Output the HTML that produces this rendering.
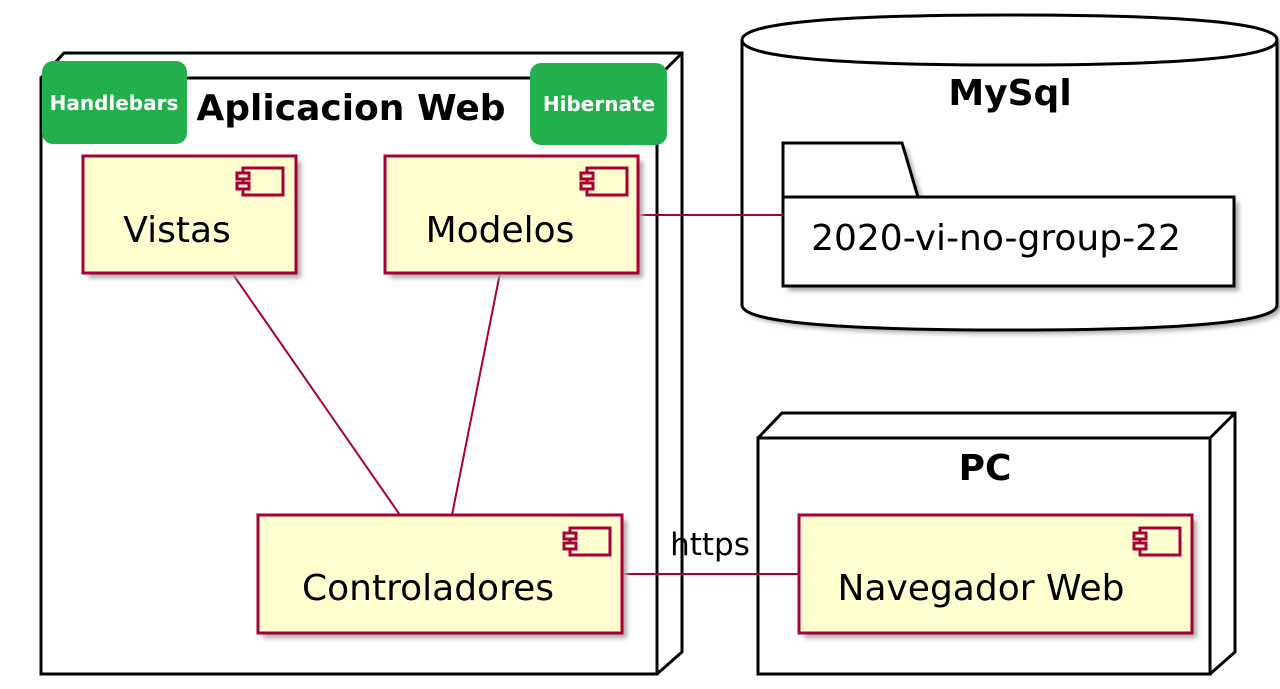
<!DOCTYPE html>
<html><head><meta charset="utf-8"><style>
html,body{margin:0;padding:0;background:#fff;width:1280px;height:689px;overflow:hidden}
svg{display:block}
text{font-family:"DejaVu Sans","Liberation Sans",sans-serif}
</style></head><body>
<svg width="1280" height="689" viewBox="0 0 1280 689">
<defs>
<filter id="sh" x="-5%" y="-5%" width="115%" height="115%"><feGaussianBlur stdDeviation="2.5"/></filter>
</defs>
<g fill="none" stroke="#000" stroke-width="3">
<path d="M41 78 L64 53 L682 53 L682 652 L657 674" fill="#fff"/>
<rect x="41" y="78" width="616" height="596" fill="#fff"/>
<path d="M657 78 L682 53"/>
</g>
<text x="351" y="120" font-size="36" font-weight="bold" text-anchor="middle">Aplicacion Web</text>
<rect x="42" y="61" width="145" height="83" rx="11" fill="#23b04c"/>
<text x="114" y="110" font-size="20" font-weight="bold" fill="#fff" text-anchor="middle">Handlebars</text>
<rect x="530" y="63" width="137" height="82" rx="11" fill="#23b04c"/>
<text x="599" y="111" font-size="20" font-weight="bold" fill="#fff" text-anchor="middle">Hibernate</text>

<path d="M742 40 Q742 15 1010 15 Q1277 15 1277 40 L1277 305 Q1277 330 1010 330 Q742 330 742 305 Z" fill="#aaa" filter="url(#sh)" transform="translate(4,4)"/>
<path d="M742 40 Q742 15 1010 15 Q1277 15 1277 40 L1277 305 Q1277 330 1010 330 Q742 330 742 305 Z" fill="#fff" stroke="#000" stroke-width="3"/>
<path d="M742 40 Q742 65 1010 65 Q1277 65 1277 40" fill="none" stroke="#000" stroke-width="3"/>
<text x="1010" y="105" font-size="36" font-weight="bold" text-anchor="middle">MySql</text>
<path d="M783 143 L902 143 L918 197 L1234 197 L1234 286 L783 286 Z" fill="#aaa" filter="url(#sh)" transform="translate(5,5)"/>
<path d="M783 197 L783 143 L902 143 L918 197" fill="#fff" stroke="#000" stroke-width="3"/>
<rect x="783" y="197" width="451" height="89" fill="#fff" stroke="#000" stroke-width="3"/>
<text x="996" y="250" font-size="36" text-anchor="middle">2020-vi-no-group-22</text>

<g fill="#fff" stroke="#000" stroke-width="3">
<path d="M758 438 L782 413 L1235 413 L1235 652 L1210 674"/>
<rect x="758" y="438" width="452" height="236"/>
<path d="M1210 438 L1235 413" fill="none"/>
</g>
<text x="985" y="480" font-size="36" font-weight="bold" text-anchor="middle">PC</text>

<g stroke="#a80036" stroke-width="2" fill="none">
<line x1="232" y1="273" x2="400" y2="515"/>
<line x1="500" y1="273" x2="452" y2="515"/>
<line x1="638" y1="215" x2="783" y2="215"/>
<line x1="622" y1="574" x2="799" y2="574"/>
</g>
<text x="710" y="555" font-size="31" text-anchor="middle">https</text>

<g>
<rect x="88" y="161" width="213" height="117" fill="#aaa" filter="url(#sh)"/>
<rect x="83" y="156" width="213" height="117" fill="#fefece" stroke="#a80036" stroke-width="3"/>
<rect x="390" y="161" width="253" height="117" fill="#aaa" filter="url(#sh)"/>
<rect x="385" y="156" width="253" height="117" fill="#fefece" stroke="#a80036" stroke-width="3"/>
<rect x="263" y="520" width="364" height="118" fill="#aaa" filter="url(#sh)"/>
<rect x="258" y="515" width="364" height="118" fill="#fefece" stroke="#a80036" stroke-width="3"/>
<rect x="804" y="520" width="393" height="118" fill="#aaa" filter="url(#sh)"/>
<rect x="799" y="515" width="393" height="118" fill="#fefece" stroke="#a80036" stroke-width="3"/>
</g>
<g fill="#fefece" stroke="#a80036" stroke-width="3">
<g transform="translate(243,168)"><rect x="0" y="0" width="40" height="27"/><rect x="-6" y="5" width="12" height="6"/><rect x="-6" y="15" width="12" height="6"/></g>
<g transform="translate(587,168)"><rect x="0" y="0" width="40" height="27"/><rect x="-6" y="5" width="12" height="6"/><rect x="-6" y="15" width="12" height="6"/></g>
<g transform="translate(570,528)"><rect x="0" y="0" width="40" height="27"/><rect x="-6" y="5" width="12" height="6"/><rect x="-6" y="15" width="12" height="6"/></g>
<g transform="translate(1140,528)"><rect x="0" y="0" width="40" height="27"/><rect x="-6" y="5" width="12" height="6"/><rect x="-6" y="15" width="12" height="6"/></g>
</g>
<g font-size="36">
<text x="177" y="242" text-anchor="middle">Vistas</text>
<text x="500" y="242" text-anchor="middle">Modelos</text>
<text x="428" y="600" text-anchor="middle">Controladores</text>
<text x="981" y="600" text-anchor="middle">Navegador Web</text>
</g>
</svg>
</body></html>
